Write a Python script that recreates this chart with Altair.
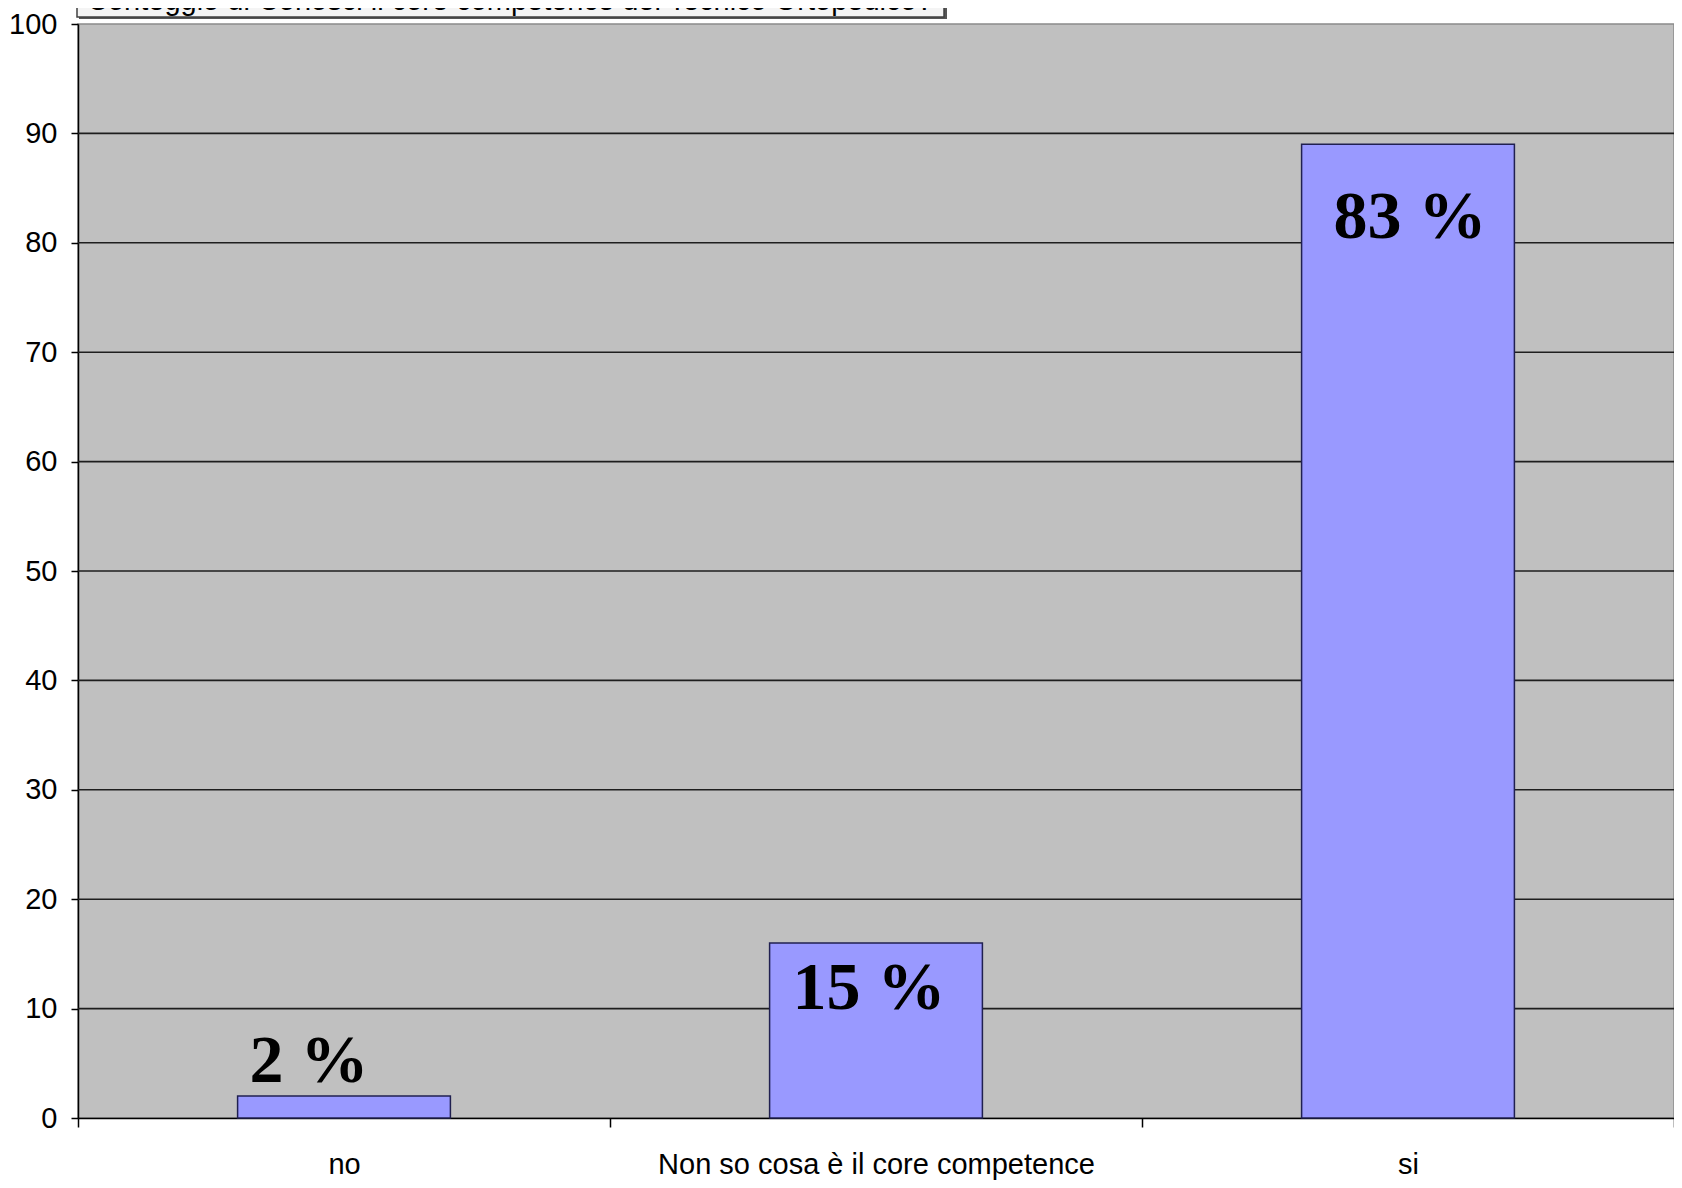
import altair as alt
import pandas as pd

# ---- data ----
categories = ["no", "Non so cosa è il core competence", "si"]
counts = [2, 16, 89]
pct_labels = ["2 %", "15 %", "83 %"]
label_levels = [3.3, 10.0, 80.4]          # where each big % annotation sits (axis units)
label_shift = [-35, -7, 2]                # horizontal nudge of each annotation (px)
y_ticks = list(range(0, 101, 10))
grid_levels = list(range(10, 100, 10))
title_text = "Conteggio di Conosci il core competence del Tecnico Ortopedico?"

df = pd.DataFrame({"cat": categories, "count": counts,
                   "label": pct_labels, "level": label_levels})
grid_df = pd.DataFrame({"g": grid_levels})
title_df = pd.DataFrame({"t": [title_text]})

W, H = 1596, 1094
SANS = "Liberation Sans, Arial, sans-serif"

x_enc = alt.X(
    "cat:N", sort=categories, title=None,
    scale=alt.Scale(paddingInner=0, paddingOuter=0),
    axis=alt.Axis(labelAngle=0, tickBand="extent", labelFont=SANS,
                  labelFontSize=29, labelColor="black", domainColor="black",
                  domainWidth=1.5, tickColor="black", tickSize=9, tickWidth=1.5,
                  labelPadding=23, labelLimit=0, grid=False),
)
y_scale = alt.Scale(domain=[0, 100], nice=False)
y_enc = alt.Y(
    "count:Q", scale=y_scale, title=None,
    axis=alt.Axis(values=y_ticks, labelFont=SANS, labelFontSize=29,
                  labelColor="black", domainColor="black", domainWidth=1.5,
                  tickColor="black", tickSize=7, tickWidth=1.5,
                  labelPadding=14, grid=False),
)

grid = alt.Chart(grid_df).mark_rule(color="#1e1e1e", strokeWidth=1.6).encode(
    y=alt.Y("g:Q", scale=y_scale)
)

bars = alt.Chart(df).mark_bar(
    color="#9999FF", stroke="#202050", strokeWidth=1.5,
    width=alt.RelativeBandSize(0.4),
).encode(x=x_enc, y=y_enc)

texts = []
for cat, shift in zip(categories, label_shift):
    texts.append(
        alt.Chart(df).transform_filter(alt.datum.cat == cat).mark_text(
            dx=shift, font="Liberation Serif, Times New Roman, serif",
            fontWeight="bold", fontSize=68, baseline="alphabetic",
            align="center", color="black",
        ).encode(
            x=alt.X("cat:N", sort=categories),
            y=alt.Y("level:Q", scale=y_scale),
            text="label:N",
        )
    )

# partially cut-off title box at the top
shadow = alt.Chart(title_df).mark_rect(color="#555555").encode(
    x=alt.value(1), x2=alt.value(869), y=alt.value(-60), y2=alt.value(-5)
)
box = alt.Chart(title_df).mark_rect(
    fill="#F4F4F4", stroke="#404040", strokeWidth=1.5
).encode(x=alt.value(-1), x2=alt.value(866), y=alt.value(-62), y2=alt.value(-7))
box_text = alt.Chart(title_df).mark_text(
    align="left", baseline="alphabetic", font=SANS, fontSize=29, color="black"
).encode(x=alt.value(9), y=alt.value(-14), text="t:N")

chart = alt.layer(grid, bars, *texts, shadow, box, box_text).properties(
    width=W, height=H,
    autosize=alt.AutoSizeParams(type="none"),
    padding={"left": 70, "top": 16, "right": 0, "bottom": 62},
    background="white",
).configure_view(fill="#C0C0C0", stroke="#8a8a8a", strokeWidth=1.5)

chart.save("out.html", embed_options={"renderer": "svg", "actions": False})
